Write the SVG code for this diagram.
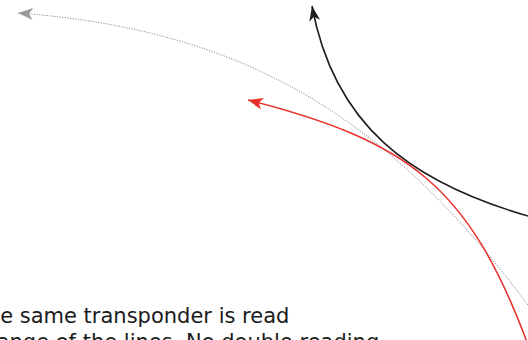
<svg xmlns="http://www.w3.org/2000/svg" width="528" height="340" viewBox="0 0 528 340">
  <style>
    .txt { font-family: "DejaVu Sans", "Liberation Sans", sans-serif; font-size: 21px; fill: #1a1a1a; }
    .gray { fill: none; stroke: #8c8c8c; stroke-width: 1; stroke-dasharray: 1.2 1.4; }
    .black { fill: none; stroke: #1e1e1e; stroke-width: 1.6; }
    .red { fill: none; stroke: #e8302a; stroke-width: 1.5; }
  </style>
  <defs>
    <marker id="ah-gray" markerUnits="userSpaceOnUse" viewBox="-16 -7 17 14" markerWidth="17" markerHeight="14" refX="0" refY="0" orient="auto">
      <path d="M0,0 L-15,-6 L-11,0 L-15,6 Z" fill="#9a9a9a"/>
    </marker>
    <marker id="ah-black" markerUnits="userSpaceOnUse" viewBox="-16 -7 17 14" markerWidth="17" markerHeight="14" refX="0" refY="0" orient="auto">
      <path d="M0,0 L-15,-5.5 L-11,0 L-15,5.5 Z" fill="#1e1e1e"/>
    </marker>
    <marker id="ah-red" markerUnits="userSpaceOnUse" viewBox="-16 -7 17 14" markerWidth="17" markerHeight="14" refX="0" refY="0" orient="auto">
      <path d="M0,0 L-15,-6 L-11,0 L-15,6 Z" fill="#e8302a"/>
    </marker>
  </defs>
  <rect width="528" height="340" fill="#ffffff"/>
  <g id="connectors">
    <path id="gray-arc" class="gray" d="M528,305 C390,121 250,30 18,13" marker-end="url(#ah-gray)"/>
    <path id="black-arc" class="black" d="M528,216 C410,182 334,125 312,6" marker-end="url(#ah-black)"/>
    <path id="red-arc" class="red" d="M527,342 C468,185 408,141 248,100" marker-end="url(#ah-red)"/>
  </g>
  <g id="caption">
    <text class="txt" x="-26" y="323">The same transponder is read</text>
    <text class="txt" x="-12" y="349">range of the lines. No double reading</text>
  </g>
</svg>
